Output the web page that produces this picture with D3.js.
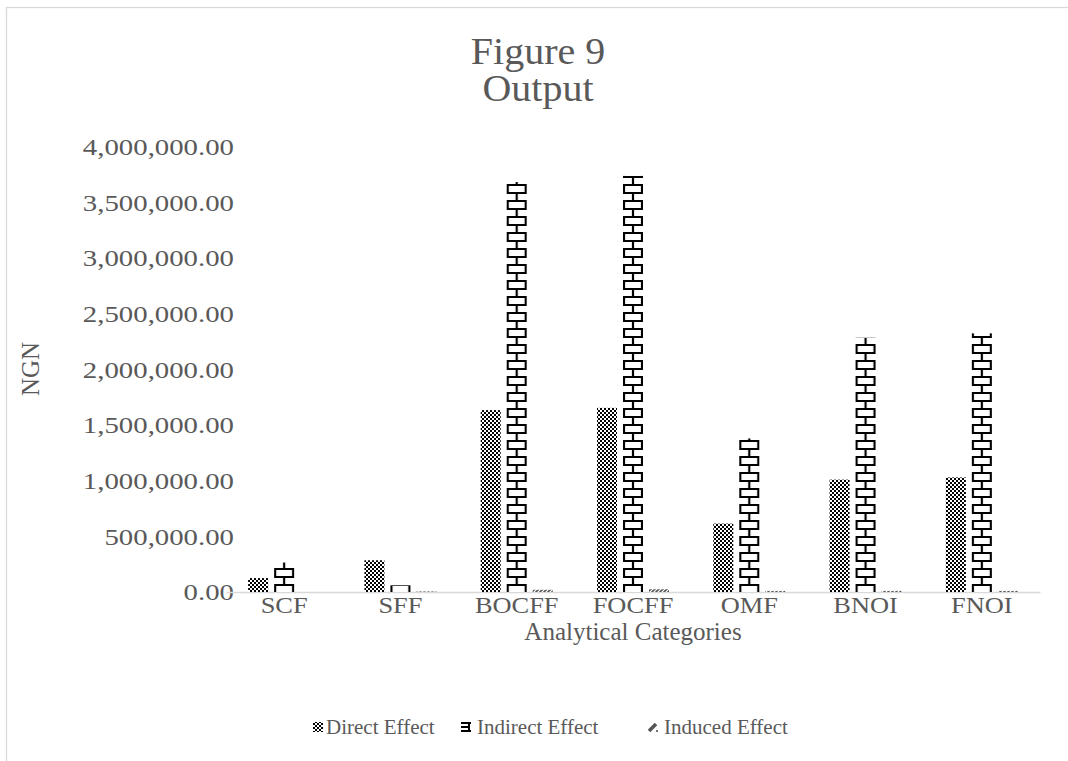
<!DOCTYPE html>
<html><head><meta charset="utf-8">
<script src="https://cdn.jsdelivr.net/npm/d3@7"></script>
<style>body{margin:0;background:#fff}svg{display:block}text{font-family:"Liberation Serif","Times New Roman",serif;fill:#595959}</style>
</head><body><svg id="c" width="1068" height="761"></svg>
<script>
const categories = ["SCF","SFF","BOCFF","FOCFF","OMF","BNOI","FNOI"];
const seriesNames = ["Direct Effect","Indirect Effect","Induced Effect"];
const directEffect   = [125000, 285000, 1635000, 1655000, 615000, 1010000, 1030000];
const indirectEffect = [265000, 60000, 3685000, 3740000, 1380000, 2285000, 2325000];
const inducedEffect  = [0, 5000, 20000, 25000, 10000, 10000, 10000];
const yTicks = [0,500000,1000000,1500000,2000000,2500000,3000000,3500000,4000000];

const svg = d3.select("#c");
const W = 1068, H = 761;
const m = {left: 226, right: 1040, top: 147, bottom: 592};

svg.append("rect").attr("x",6.5).attr("y",7.5).attr("width",W).attr("height",H)
  .attr("fill","#fff").attr("stroke","#d9d9d9").attr("stroke-width",1.3);

const defs = svg.append("defs");
const chk = defs.append("pattern").attr("id","pDirect").attr("patternUnits","userSpaceOnUse")
  .attr("width",4).attr("height",4);
chk.append("rect").attr("width",4).attr("height",4).attr("fill","#fff");
chk.append("rect").attr("width",2).attr("height",2).attr("fill","#000");
chk.append("rect").attr("x",2).attr("y",2).attr("width",2).attr("height",2).attr("fill","#000");
const dg = defs.append("pattern").attr("id","pInduced").attr("patternUnits","userSpaceOnUse")
  .attr("width",4).attr("height",4);
dg.append("rect").attr("width",4).attr("height",4).attr("fill","#fff");
dg.append("path").attr("d","M-1,5 L5,-1 M-1,1 L1,-1 M3,5 L5,3").attr("stroke","#555").attr("stroke-width",1.6);

const x0 = d3.scaleBand().domain(categories).range([m.left, m.right]).paddingInner(0).paddingOuter(0);
const barW = 20, gapB = 6;
const y = d3.scaleLinear().domain([0,4000000]).range([m.bottom, m.top]);

const t = svg.append("text").attr("text-anchor","middle").attr("font-size",37)
  .attr("transform","translate(538,0) scale(1.08,1)");
t.append("tspan").attr("x",0).attr("y",64).text("Figure 9");
t.append("tspan").attr("x",0).attr("y",101).text("Output");

const yAxis = d3.axisLeft(y).tickValues(yTicks).tickSize(0).tickPadding(0)
  .tickFormat(d => d3.format(",.2f")(d));
const gy = svg.append("g").attr("transform","translate(234,0)").call(yAxis);
gy.select(".domain").remove();
gy.selectAll("text").attr("font-size",24).attr("font-family","Liberation Serif").attr("fill","#595959")
  .attr("transform","scale(1.2,1)");

const xAxis = d3.axisBottom(x0).tickSize(0).tickPadding(0);
const gx = svg.append("g").attr("transform",`translate(0,${m.bottom})`).call(xAxis);
gx.select(".domain").attr("stroke","#d9d9d9").attr("stroke-width",1.5);
gx.selectAll("text").attr("font-size",24).attr("dy",null).attr("y",21)
  .attr("font-family","Liberation Serif").attr("fill","#595959").attr("transform","scale(1.1,1)");

const groupW = 3*barW + 2*gapB;
const xs = d3.scaleBand().domain(seriesNames).range([0, groupW]).paddingInner(gapB/(barW+gapB)).paddingOuter(0);
const allSeries = [directEffect, indirectEffect, inducedEffect];

const bars = [];
categories.forEach((c,i) => seriesNames.forEach((s,j) => bars.push({c, s, j, v: allSeries[j][i]})));
function bx(d){ return x0(d.c) + (x0.bandwidth()-groupW)/2 + xs(d.s); }

bars.filter(d=>d.j===1).forEach((d,k)=>{
  const px = bx(d), py = y(0);
  const p = defs.append("pattern").attr("id","pBrick"+k).attr("patternUnits","userSpaceOnUse")
    .attr("x",px).attr("y",py).attr("width",barW).attr("height",16);
  p.append("rect").attr("width",barW).attr("height",16).attr("fill","#fff");
  p.append("path").attr("d",`M0,1 H${barW} M0,9 H${barW} M${barW/2},1 V9 M1,9 V17 M${barW-1},9 V17`)
    .attr("stroke","#000").attr("stroke-width",2.2).attr("fill","none");
  d.pid = "pBrick"+k;
});

svg.append("g").selectAll("rect").data(bars).join("rect")
  .attr("x", d => bx(d))
  .attr("y", d => y(d.v))
  .attr("width", xs.bandwidth())
  .attr("height", d => y(0)-y(d.v))
  .attr("fill", d => d.j===0 ? "url(#pDirect)" : d.j===1 ? `url(#${d.pid})` : "url(#pInduced)");

svg.append("text").attr("transform","translate(39,369) rotate(-90)").attr("text-anchor","middle")
  .attr("font-size",25).text("NGN");
svg.append("text").attr("x",633).attr("y",640).attr("text-anchor","middle").attr("font-size",25)
  .text("Analytical Categories");

const legSym = [313, 461, 648], legTxt = [326, 477, 664];
const lg = svg.append("g");
seriesNames.forEach((s,j)=>{
  const g = lg.append("g").attr("transform",`translate(${legSym[j]},727)`);
  if(j===0){
    g.append("rect").attr("x",0).attr("y",-5).attr("width",10).attr("height",10).attr("fill","url(#pDirect)");
  } else if(j===1){
    g.append("path").attr("d","M0,-4 H10 M0,4 H10 M8,-4 V4 M0,0 H8").attr("stroke","#000").attr("stroke-width",2).attr("fill","none");
  } else {
    g.append("path").attr("d","M1,4 L8,-3").attr("stroke","#555").attr("stroke-width",3.5);
    g.append("rect").attr("x",8).attr("y",3).attr("width",2).attr("height",2).attr("fill","#777");
  }
  lg.append("text").attr("x",legTxt[j]).attr("y",734).attr("font-size",21).text(s);
});
</script></body></html>
